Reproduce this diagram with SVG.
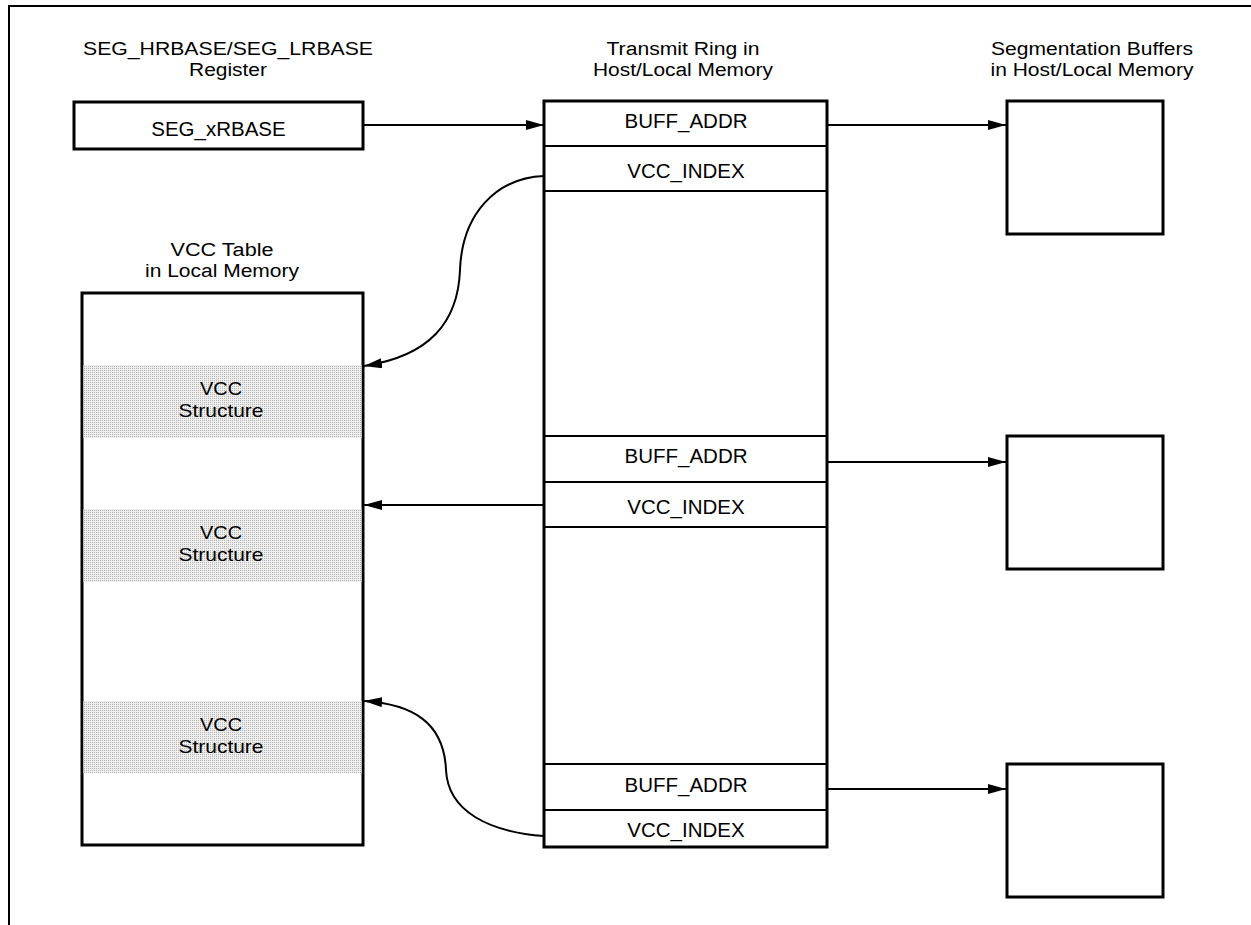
<svg xmlns="http://www.w3.org/2000/svg" width="1251" height="925" viewBox="0 0 1251 925">
<style>
text{font-family:"Liberation Sans",Arial,sans-serif;fill:#000;text-anchor:middle}
.t{font-size:18px}
.b{font-size:20.5px}
.s{font-size:19px}
.box{fill:#fff;stroke:#000;stroke-width:3}
.div{stroke:#000;stroke-width:2}
.con{fill:none;stroke:#000;stroke-width:2}
</style>
<defs>
<pattern id="dots" width="2" height="2" patternUnits="userSpaceOnUse">
<rect width="2" height="2" fill="#efefef"/>
<rect width="1" height="1" fill="#b4b4b4"/>
</pattern>
<marker id="ah" markerUnits="userSpaceOnUse" markerWidth="20" markerHeight="12" refX="18" refY="5" orient="auto">
<path d="M0,0 L18,5 L0,10 Z" fill="#000"/>
</marker>
</defs>
<path d="M9,925 V6 H1251" fill="none" stroke="#000" stroke-width="2"/>
<g id="titles">
<text class="t" x="228" y="55" textLength="290" lengthAdjust="spacingAndGlyphs">SEG_HRBASE/SEG_LRBASE</text>
<text class="t" x="228" y="76" textLength="78" lengthAdjust="spacingAndGlyphs">Register</text>
<text class="t" x="683" y="55" textLength="153" lengthAdjust="spacingAndGlyphs">Transmit Ring in</text>
<text class="t" x="683" y="76" textLength="180" lengthAdjust="spacingAndGlyphs">Host/Local Memory</text>
<text class="t" x="1092" y="55" textLength="202" lengthAdjust="spacingAndGlyphs">Segmentation Buffers</text>
<text class="t" x="1092" y="76" textLength="203" lengthAdjust="spacingAndGlyphs">in Host/Local Memory</text>
<text class="t" x="222" y="256" textLength="103" lengthAdjust="spacingAndGlyphs">VCC Table</text>
<text class="t" x="222" y="277" textLength="154" lengthAdjust="spacingAndGlyphs">in Local Memory</text>
</g>
<g id="register">
<rect class="box" x="74" y="102" width="289" height="47"/>
<text class="b" x="218.5" y="136">SEG_xRBASE</text>
</g>
<g id="vcc-table">
<rect class="box" x="82" y="293" width="281" height="552"/>
<rect x="83.5" y="365" width="278" height="73" fill="url(#dots)"/>
<rect x="83.5" y="509" width="278" height="73" fill="url(#dots)"/>
<rect x="83.5" y="701" width="278" height="72" fill="url(#dots)"/>
<text class="s" x="221" y="395" textLength="42" lengthAdjust="spacingAndGlyphs">VCC</text>
<text class="s" x="221" y="417" textLength="85" lengthAdjust="spacingAndGlyphs">Structure</text>
<text class="s" x="221" y="539" textLength="42" lengthAdjust="spacingAndGlyphs">VCC</text>
<text class="s" x="221" y="561" textLength="85" lengthAdjust="spacingAndGlyphs">Structure</text>
<text class="s" x="221" y="731" textLength="42" lengthAdjust="spacingAndGlyphs">VCC</text>
<text class="s" x="221" y="753" textLength="85" lengthAdjust="spacingAndGlyphs">Structure</text>
</g>
<g id="transmit-ring">
<rect class="box" x="544" y="101" width="283" height="746"/>
<line class="div" x1="544" y1="146" x2="827" y2="146"/>
<line class="div" x1="544" y1="191" x2="827" y2="191"/>
<line class="div" x1="544" y1="436" x2="827" y2="436"/>
<line class="div" x1="544" y1="482" x2="827" y2="482"/>
<line class="div" x1="544" y1="527" x2="827" y2="527"/>
<line class="div" x1="544" y1="764" x2="827" y2="764"/>
<line class="div" x1="544" y1="810" x2="827" y2="810"/>
<text class="b" x="686" y="128">BUFF_ADDR</text>
<text class="b" x="686" y="178">VCC_INDEX</text>
<text class="b" x="686" y="463">BUFF_ADDR</text>
<text class="b" x="686" y="514">VCC_INDEX</text>
<text class="b" x="686" y="792">BUFF_ADDR</text>
<text class="b" x="686" y="837">VCC_INDEX</text>
</g>
<g id="buffer-1"><rect class="box" x="1007" y="101" width="156" height="133"/></g>
<g id="buffer-2"><rect class="box" x="1007" y="436" width="156" height="133"/></g>
<g id="buffer-3"><rect class="box" x="1007" y="764" width="156" height="133"/></g>
<g id="connectors">
<line class="con" x1="363" y1="125" x2="544" y2="125" marker-end="url(#ah)"/>
<line class="con" x1="827" y1="125" x2="1006" y2="125" marker-end="url(#ah)"/>
<line class="con" x1="827" y1="462" x2="1006" y2="462" marker-end="url(#ah)"/>
<line class="con" x1="827" y1="789" x2="1006" y2="789" marker-end="url(#ah)"/>
<path class="con" d="M544,176 C495,178 462,215 460,270 C458,322 430,356 364,366" marker-end="url(#ah)"/>
<line class="con" x1="544" y1="505" x2="364" y2="505" marker-end="url(#ah)"/>
<path class="con" d="M544,836 C490,832 448,812 446,770 C444,722 412,704 364,701" marker-end="url(#ah)"/>
</g>
</svg>
